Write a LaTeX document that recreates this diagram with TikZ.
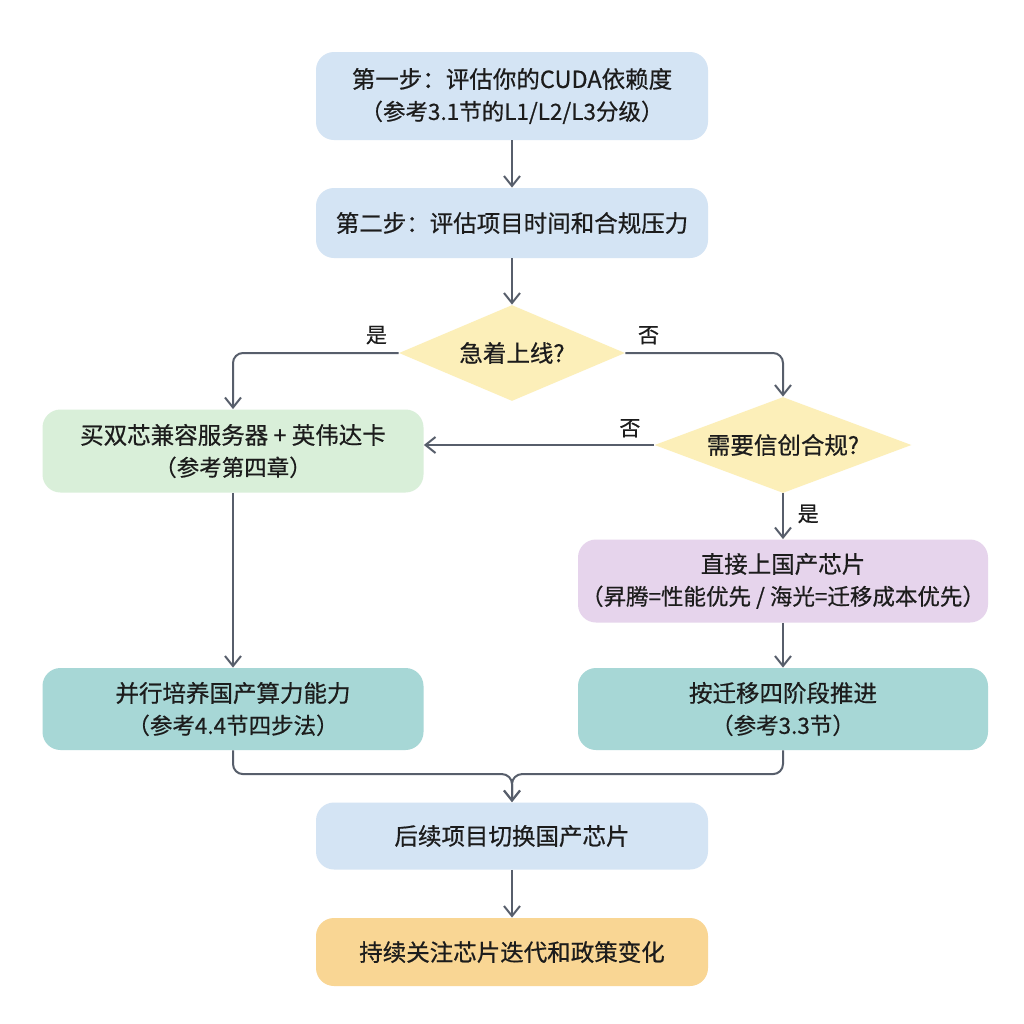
\documentclass[tikz,border=0pt]{standalone}
\usepackage{fontspec}
\setmainfont{Noto Sans CJK SC}[FakeBold=0.6]
\usetikzlibrary{arrows.meta, positioning, shapes.geometric}

\definecolor{stepblue}{HTML}{D4E4F4}
\definecolor{buygreen}{HTML}{D9EFD9}
\definecolor{askyellow}{HTML}{FCEFB9}
\definecolor{chippurple}{HTML}{E6D4EC}
\definecolor{planteal}{HTML}{A7D7D6}
\definecolor{watchorange}{HTML}{F9D694}
\definecolor{linegray}{HTML}{575E6B}
\definecolor{inkdark}{HTML}{1C1C1C}

\newcommand{\subline}[1]{{\fontsize{11.25pt}{15.5pt}\selectfont #1}}

\begin{document}
\begin{tikzpicture}[on grid, node distance=64pt,
    >={Straight Barb[length=5pt, width=8pt]},
    every node/.style={text=inkdark, font=\fontsize{11.75pt}{16pt}\selectfont},
    stepbox/.style={rectangle, rounded corners=9pt, align=center, inner sep=0pt, minimum width=196pt},
    choice/.style={diamond, fill=askyellow, inner sep=0pt, aspect=2.5},
    tag/.style={font=\fontsize{10.5pt}{12pt}\selectfont},
    flow/.style={->, draw=linegray, line width=1pt}]
  \fill[white] (0,0) rectangle (512pt,-512pt);

  \node[stepbox, fill=stepblue, minimum height=44pt] (check) at (256pt,-48pt) {第一步：评估你的CUDA依赖度\\\subline{（参考3.1节的L1/L2/L3分级）}};
  \node[stepbox, fill=stepblue, minimum height=35pt] (assess) [below=63.5pt of check] {第二步：评估项目时间和合规压力};
  \node[choice, minimum width=113pt, minimum height=48pt] (urgent) [below=65pt of assess] {急着上线?};
  \node[choice, minimum width=128.5pt, minimum height=48pt] (xinchuang) [below right=46pt and 135.5pt of urgent] {需要信创合规?};
  \node[stepbox, fill=buygreen, minimum width=190.5pt, minimum height=41.5pt] (buy) [below left=49pt and 139.5pt of urgent] {买双芯兼容服务器 + 英伟达卡\\\subline{（参考第四章）}};
  \node[stepbox, fill=chippurple, minimum width=205pt, minimum height=41.5pt] (domestic) [below=68pt of xinchuang] {直接上国产芯片\\\subline{（昇腾=性能优先 / 海光=迁移成本优先）}};
  \node[stepbox, fill=planteal, minimum width=205pt, minimum height=41pt] (migrate) [below=64pt of domestic] {按迁移四阶段推进\\\subline{（参考3.3节）}};
  \node[stepbox, fill=planteal, minimum width=190.5pt, minimum height=41pt] (train) [left=275pt of migrate] {并行培养国产算力能力\\\subline{（参考4.4节四步法）}};
  \node[stepbox, fill=stepblue, minimum height=33.5pt] (switch) [below=370pt of check] {后续项目切换国产芯片};
  \node[stepbox, fill=watchorange, minimum height=34pt] (watch) [below=58pt of switch] {持续关注芯片迭代和政策变化};
  \coordinate[above=14pt of switch.north] (join);

  \path[flow]
    (check) edge (assess)
    (assess) edge (urgent)
    (xinchuang) edge node[tag, right=3.5pt, pos=0.45] {是} (domestic)
    (domestic) edge (migrate)
    (buy) edge (train)
    (switch) edge (watch);
  \draw[flow, rounded corners=5pt] (urgent.west) node[tag, above left=0.5pt and 2pt] {是} -| (buy.north);
  \draw[flow, rounded corners=5pt] (urgent.east) node[tag, above right=0.5pt and 2.5pt] {否} -| (xinchuang.north);
  \draw[flow] (xinchuang.west) node[tag, above left=0pt and 3pt] {否} -- (xinchuang.west -| buy.east);
  \draw[flow, rounded corners=5pt] (train.south) |- (join) -- (switch.north);
  \draw[flow, rounded corners=5pt] (migrate.south) |- (join) -- (switch.north);
\end{tikzpicture}
\end{document}
